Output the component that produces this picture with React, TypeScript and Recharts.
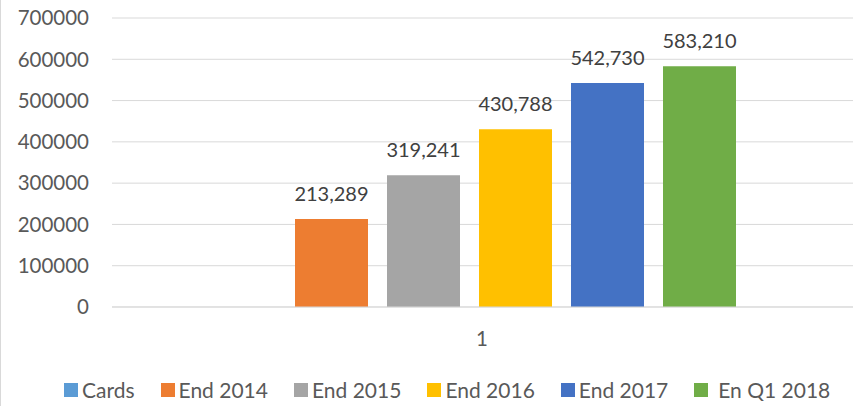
import React from 'react'
import { BarChart, Bar, XAxis, YAxis, CartesianGrid, Legend, LabelList } from 'recharts'

const categories = ['1']
const seriesNames = ['Cards', 'End 2014', 'End 2015', 'End 2016', 'End 2017', 'En Q1 2018']
const seriesValues: (number | null)[] = [null, 213289, 319241, 430788, 542730, 583210]
const seriesColors = ['#5B9BD5', '#ED7D31', '#A5A5A5', '#FFC000', '#4472C4', '#70AD47']
const yTicks = [0, 100000, 200000, 300000, 400000, 500000, 600000, 700000]

const data = categories.map((c) => {
  const row: Record<string, string | number | null> = { name: c }
  seriesNames.forEach((s, i) => {
    row['s' + i] = seriesValues[i]
  })
  return row
})

const FONT = 'Lato, "Open Sans", sans-serif'

// keep the legend in series order (recharts sorts it otherwise)
function renderLegend() {
  return (
    <div style={{ display: 'flex', justifyContent: 'flex-start', paddingLeft: 63, fontFamily: FONT, fontSize: 21, color: '#595959', whiteSpace: 'nowrap' }}>
      {seriesNames.map((s, i) => (
        <div key={s} style={{ display: 'flex', alignItems: 'center', marginRight: 26, flexShrink: 0 }}>
          <span style={{ display: 'inline-block', width: 14, height: 14, background: seriesColors[i], marginRight: i === 5 ? 10 : 4 }} />
          <span>{s}</span>
        </div>
      ))}
    </div>
  )
}

export default function App() {
  return (
    <div style={{ position: 'absolute', left: 0, top: 0, width: 853, height: 406, background: '#fff', borderLeft: '1px solid #d9d9d9', boxSizing: 'border-box' }}>
      <BarChart
        width={852}
        height={406}
        data={data}
        margin={{ top: 18, right: 0, left: 0, bottom: 4 }}
        barSize={73}
        barGap={19}
      >
        <CartesianGrid vertical={false} stroke="#d9d9d9" />
        <XAxis
          dataKey="name"
          axisLine={{ stroke: '#d9d9d9' }}
          tickLine={false}
          tickSize={0}
          tickMargin={24}
          padding={{ left: 0, right: 27 }}
          tick={{ fill: '#595959', fontSize: 20.5, fontFamily: FONT, dx: 13 }}
          height={70}
        />
        <YAxis
          domain={[0, 700000]}
          ticks={yTicks}
          axisLine={false}
          tickLine={false}
          tickSize={0}
          tickMargin={23}
          width={111}
          tick={{ fill: '#595959', fontSize: 20.5, fontFamily: FONT }}
        />
        <Legend verticalAlign="bottom" content={renderLegend} />
        {seriesNames.map((s, i) => (
          <Bar key={s} dataKey={'s' + i} name={s} fill={seriesColors[i]} isAnimationActive={false}>
            {i > 0 && (
              <LabelList
                dataKey={'s' + i}
                position="top"
                offset={18}
                fill="#404040"
                fontSize={20}
                fontFamily={FONT}
                formatter={(v: any) => (v == null ? '' : Number(v).toLocaleString('en-US'))}
              />
            )}
          </Bar>
        ))}
      </BarChart>
    </div>
  )
}
